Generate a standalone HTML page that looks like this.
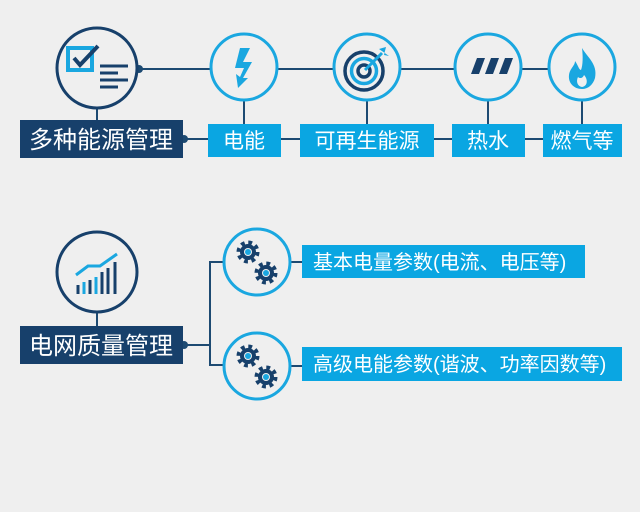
<!DOCTYPE html>
<html><head><meta charset="utf-8"><style>
html,body{margin:0;padding:0;background:#efefef;}
svg{display:block}
text{font-family:"Liberation Sans","Noto Sans CJK SC",sans-serif;fill:#fff;}
</style></head><body>
<svg width="640" height="512" viewBox="0 0 640 512" xmlns="http://www.w3.org/2000/svg">
<rect width="640" height="512" fill="#efefef"/>
<g stroke="#1d4a72" stroke-width="2" fill="none">
<line x1="138" y1="69" x2="582" y2="69"/>
<line x1="97" y1="108" x2="97" y2="124"/>
<line x1="244" y1="100" x2="244" y2="124"/>
<line x1="367" y1="100" x2="367" y2="124"/>
<line x1="488" y1="100" x2="488" y2="124"/>
<line x1="582" y1="100" x2="582" y2="124"/>
<line x1="183" y1="139" x2="620" y2="139"/>
<line x1="97" y1="312" x2="97" y2="326"/>
<path d="M183 345 H210 M224 262 H210 V365 H224 M289 262 H302 M289 366 H302"/>
</g>
<circle cx="139" cy="69" r="4" fill="#1d4a72"/>
<circle cx="184" cy="139" r="4" fill="#1d4a72"/>
<circle cx="184" cy="345" r="4" fill="#1d4a72"/>
<circle cx="97" cy="68" r="40" fill="#efefef" stroke="#17406b" stroke-width="3"/>
<circle cx="97" cy="272" r="40" fill="#efefef" stroke="#17406b" stroke-width="3"/>
<g fill="#efefef" stroke="#1aa7e0" stroke-width="3">
<circle cx="244" cy="67" r="33"/><circle cx="367" cy="67" r="33"/>
<circle cx="488" cy="67" r="33"/><circle cx="582" cy="67" r="33"/>
<circle cx="257" cy="262" r="33"/><circle cx="257" cy="366" r="33"/>
</g>
<rect x="68" y="48" width="24" height="22" fill="none" stroke="#1aa7e0" stroke-width="4"/>
<path d="M74 58 L80 65 L98 46" fill="none" stroke="#17406b" stroke-width="4"/>
<g stroke="#17406b" stroke-width="3"><line x1="100" y1="66" x2="128" y2="66"/><line x1="100" y1="73" x2="118" y2="73"/><line x1="100" y1="80" x2="128" y2="80"/><line x1="100" y1="87" x2="118" y2="87"/></g>
<path d="M240 48 L250 48 L243 62 L252 62 L243 78 L248 78 L238 88 L236 74 L240 77 L244 68 L235 68 Z" fill="#1aa7e0"/>
<g fill="none" stroke="#17406b" stroke-width="3.5"><circle cx="364" cy="71" r="19"/><circle cx="364" cy="71" r="12.5" stroke="#1aa7e0"/><circle cx="364" cy="71" r="6"/></g>
<path d="M365 70 L382 53" stroke="#1aa7e0" stroke-width="3"/><path d="M379 49 L386 47 L384 55 L389 56 Z" fill="#1aa7e0"/>
<g fill="#17406b"><path d="M471 74 L477 58 L485 58 L479 74 Z"/><path d="M485 74 L491 58 L499 58 L493 74 Z"/><path d="M499 74 L505 58 L513 58 L507 74 Z"/></g>
<path d="M582 48 C587 57 598 64 595 78 C593 85 588 89 582 89 C574 89 568 83 569 75 C570 68 575 66 575 61 C578 65 579 70 581 70 C583 65 583 56 582 48 Z" fill="#1aa7e0"/>
<path d="M582 87 C577 86 576 81 578 77 C580 79 583 78 584 75 C588 79 588 86 582 87Z" fill="#efefef"/>
<g stroke="#17406b" stroke-width="3">
<line x1="78" y1="285" x2="78" y2="294"/><line x1="84" y1="282" x2="84" y2="294" stroke="#1aa7e0"/><line x1="90" y1="280" x2="90" y2="294"/>
<line x1="96" y1="277" x2="96" y2="294" stroke="#1aa7e0"/><line x1="102" y1="272" x2="102" y2="294"/><line x1="108" y1="268" x2="108" y2="294"/><line x1="115" y1="262" x2="115" y2="294"/></g>
<path d="M76 275 L88 266 L100 266 L117 254" fill="none" stroke="#1aa7e0" stroke-width="3"/>
<g id="g1">
<circle cx="248" cy="252" r="9" fill="none" stroke="#17406b" stroke-width="5" stroke-dasharray="3.6 3.47"/>
<circle cx="248" cy="252" r="8" fill="#17406b"/><circle cx="248" cy="252" r="4" fill="#efefef"/><circle cx="248" cy="252" r="3" fill="#1aa7e0"/>
<circle cx="266" cy="273" r="9" fill="none" stroke="#17406b" stroke-width="5" stroke-dasharray="3.6 3.47"/>
<circle cx="266" cy="273" r="8" fill="#17406b"/><circle cx="266" cy="273" r="4" fill="#efefef"/><circle cx="266" cy="273" r="3" fill="#1aa7e0"/>
</g>
<use href="#g1" y="104"/>
<rect x="20" y="120" width="163" height="38" fill="#17406b"/>
<text x="101" y="148" font-size="24" text-anchor="middle">多种能源管理</text>
<g fill="#0aa6e2">
<rect x="208" y="124" width="73" height="33"/><rect x="300" y="124" width="134" height="33"/>
<rect x="452" y="124" width="73" height="33"/><rect x="543" y="124" width="79" height="33"/>
<rect x="302" y="245" width="283" height="33"/><rect x="302" y="347" width="320" height="34"/>
</g>
<g font-size="21" text-anchor="middle">
<text x="244" y="148">电能</text><text x="367" y="148">可再生能源</text>
<text x="488" y="148">热水</text><text x="582" y="148">燃气等</text>
</g>
<text x="313" y="269" font-size="20">基本电量参数(电流、电压等)</text>
<text x="313" y="371" font-size="20">高级电能参数(谐波、功率因数等)</text>
<rect x="20" y="326" width="163" height="38" fill="#17406b"/>
<text x="101" y="354" font-size="24" text-anchor="middle">电网质量管理</text>
</svg>
</body></html>
